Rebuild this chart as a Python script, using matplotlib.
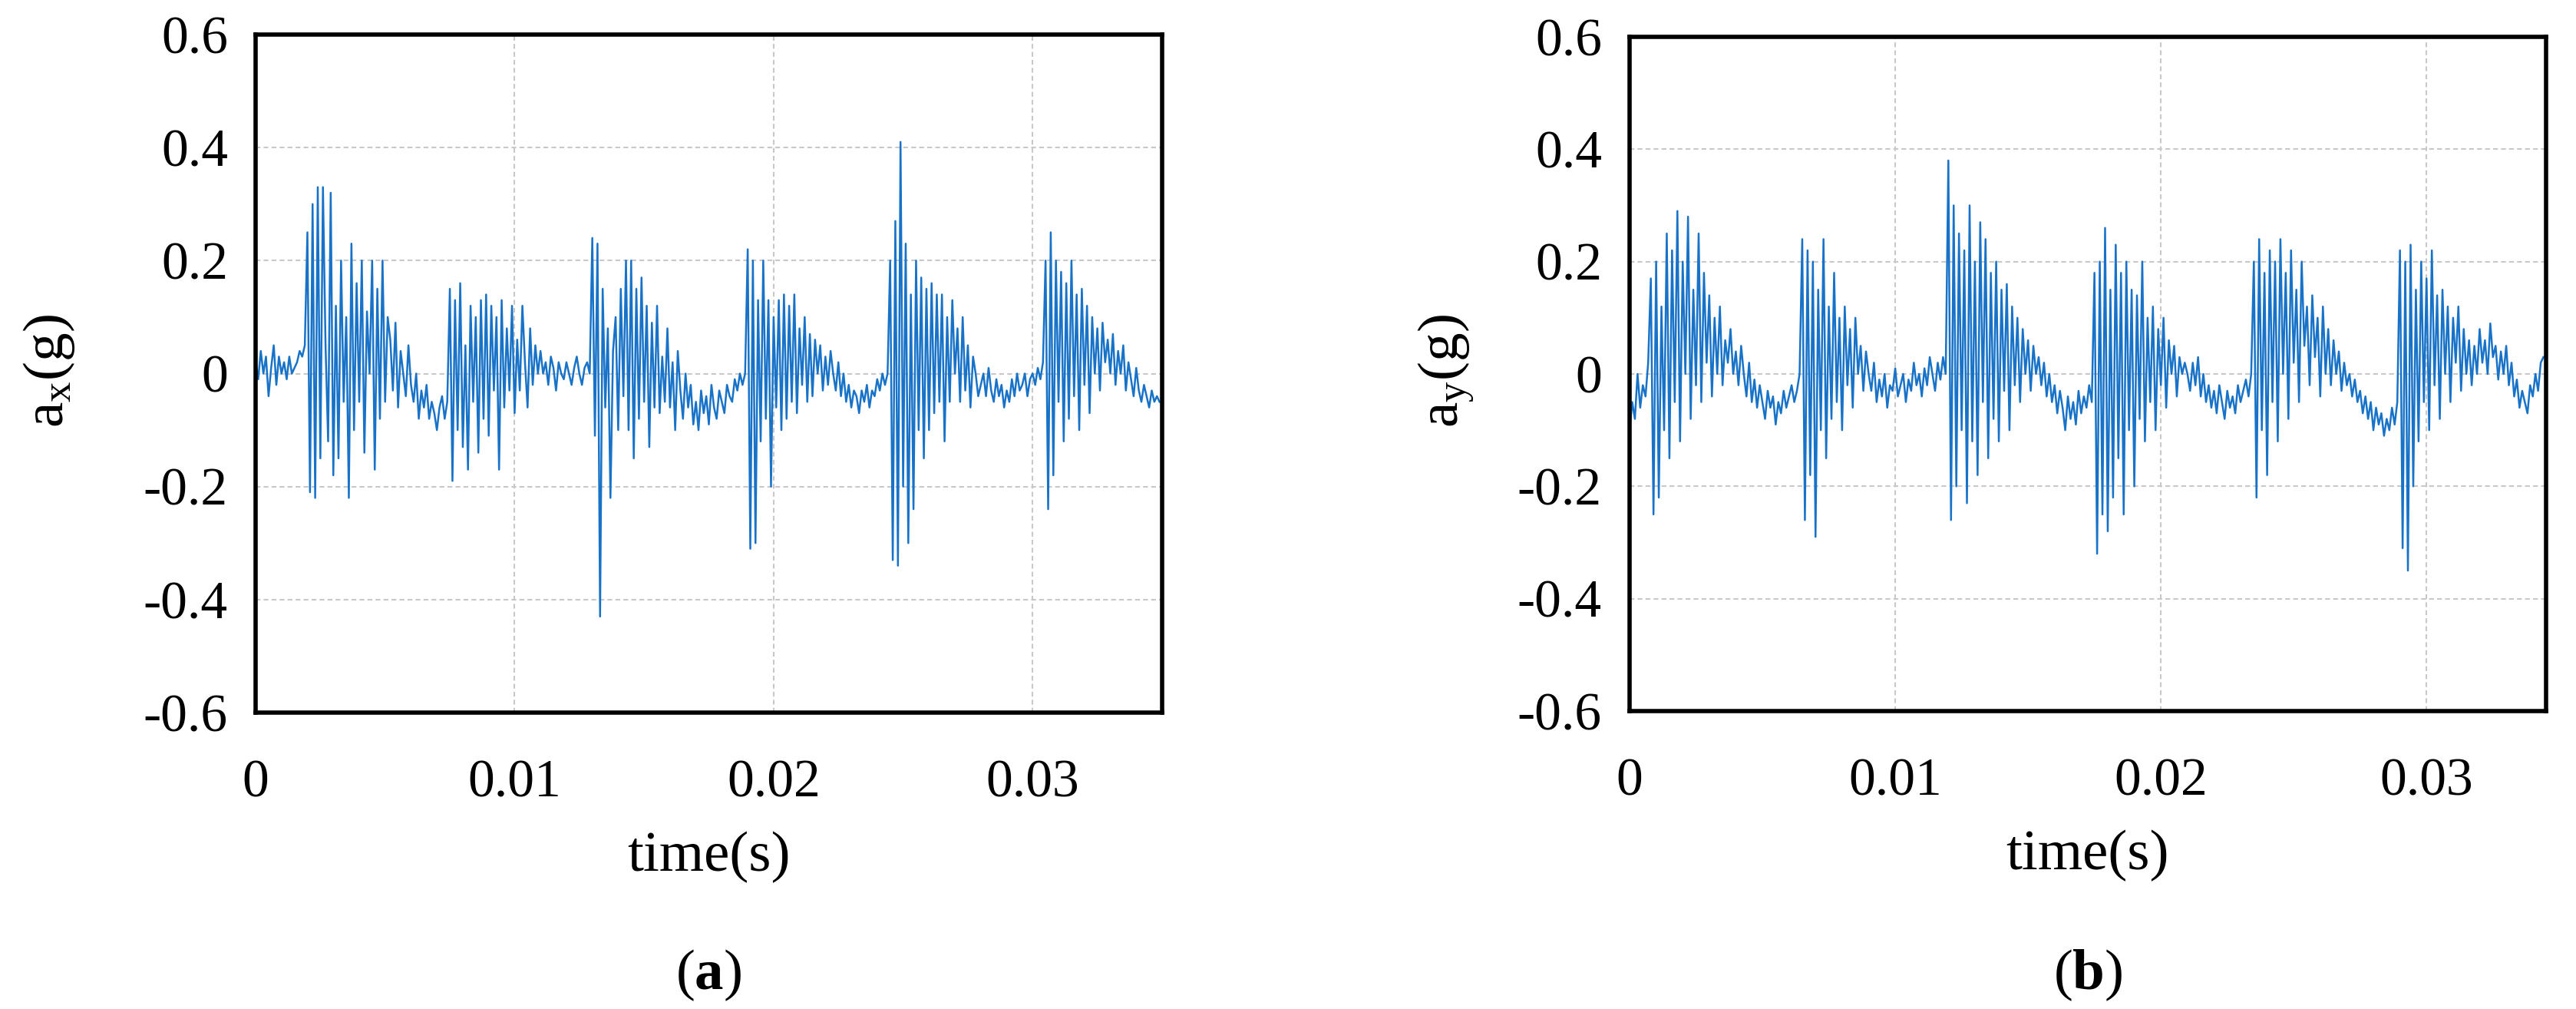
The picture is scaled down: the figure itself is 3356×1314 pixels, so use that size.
import numpy as np
import matplotlib
matplotlib.use("Agg")
import matplotlib.pyplot as plt

dt = 0.0001
ax_vals = [
 0.02,-0.01,0.04,0.0,0.03,-0.04,0.01,0.05,-0.02,0.03,0.0,0.02,-0.01,0.03,0.0,0.01,0.02,0.04,0.03,0.05,
 0.25,-0.21,0.30,-0.22,0.33,-0.15,0.33,0.05,-0.12,0.32,-0.18,0.12,-0.15,0.2,-0.05,0.1,-0.22,0.23,-0.1,0.16,-0.05,0.2,-0.14,0.11,0.0,0.2,-0.17,0.15,-0.08,0.2,
 -0.05,0.1,0.06,-0.03,0.09,-0.06,0.04,0.0,-0.04,0.05,-0.02,-0.05,0.0,-0.08,-0.03,-0.06,-0.02,-0.08,-0.05,-0.07,-0.1,-0.06,-0.04,-0.08,-0.05,
 0.15,-0.19,0.13,-0.1,0.16,-0.13,0.05,-0.17,0.12,-0.05,0.1,-0.14,0.13,-0.08,0.14,-0.11,0.12,-0.03,0.1,-0.17,0.13,-0.06,0.08,-0.03,0.12,-0.07,0.06,-0.03,0.12,0.02,-0.06,0.08,-0.02,0.05,0.0,
 0.04,0.0,0.02,-0.02,0.03,0.01,-0.03,0.02,0.0,-0.01,0.02,0.0,-0.02,0.01,0.03,0.0,-0.02,0.01,0.02,0.0,
 0.24,-0.11,0.23,-0.43,0.15,-0.06,0.08,-0.22,0.04,0.1,-0.1,0.15,-0.04,0.2,-0.1,0.2,-0.15,0.15,-0.08,0.17,-0.05,0.12,-0.13,0.09,-0.06,0.12,-0.07,0.03,-0.05,0.08,-0.06,0.02,-0.1,0.04,-0.03,-0.08,0.0,-0.06,-0.02,-0.09,
 -0.05,-0.1,-0.03,-0.07,-0.04,-0.09,-0.02,-0.06,-0.08,-0.03,-0.05,-0.07,-0.02,-0.04,-0.05,-0.01,-0.03,0.0,-0.02,0.0,
 0.22,-0.31,0.2,-0.3,0.13,-0.12,0.2,-0.08,0.13,-0.2,0.1,-0.06,0.13,-0.1,0.14,-0.08,0.12,-0.05,0.14,-0.07,0.08,-0.02,0.1,-0.05,0.07,-0.04,0.06,0.0,0.05,-0.03,
 0.03,-0.02,0.04,0.0,-0.03,0.02,-0.04,0.0,-0.05,-0.02,-0.06,-0.03,-0.04,-0.07,-0.03,-0.05,-0.02,-0.06,-0.03,-0.04,-0.01,-0.03,0.0,-0.02,0.0,
 0.2,-0.33,0.27,-0.34,0.41,-0.2,0.23,-0.3,0.14,-0.24,0.2,-0.1,0.17,-0.15,0.15,-0.1,0.16,-0.07,0.14,-0.05,0.14,-0.12,0.1,-0.05,0.13,0.0,0.08,-0.05,0.1,-0.03,0.05,-0.06,0.03,0.0,-0.04,
 -0.02,0.0,-0.04,0.01,-0.03,-0.05,-0.01,-0.04,-0.02,-0.06,-0.03,-0.05,-0.01,-0.04,0.0,-0.03,-0.02,0.0,-0.04,-0.01,0.0,-0.02,0.01,-0.01,0.02,
 0.2,-0.24,0.25,-0.18,0.2,-0.05,0.18,-0.12,0.16,-0.08,0.2,-0.04,0.14,-0.1,0.15,-0.02,0.12,-0.07,0.1,0.0,0.08,-0.03,0.09,0.02,0.06,
 0.0,0.07,-0.02,0.04,0.0,0.05,-0.03,0.02,-0.01,-0.04,0.01,-0.03,-0.05,-0.02,-0.04,-0.06,-0.03,-0.05,-0.04,-0.05,
]
ay_vals = [
 -0.1,-0.05,-0.08,0.0,-0.06,-0.02,-0.04,0.02,
 0.17,-0.25,0.2,-0.22,0.12,-0.1,0.25,-0.15,0.22,-0.05,0.29,-0.12,0.2,0.0,0.28,-0.08,0.15,-0.02,0.25,-0.05,0.18,0.02,0.14,-0.04,0.1,0.0,0.12,-0.02,0.06,0.02,0.08,0.0,
 0.04,-0.02,0.05,0.0,-0.04,0.02,-0.05,-0.01,-0.06,-0.02,-0.05,-0.08,-0.03,-0.06,-0.04,-0.09,-0.05,-0.07,-0.03,-0.06,-0.04,-0.02,-0.05,-0.03,0.0,
 0.24,-0.26,0.22,-0.18,0.2,-0.29,0.15,-0.1,0.24,-0.15,0.12,-0.08,0.18,-0.05,0.1,-0.1,0.12,-0.02,0.08,-0.06,0.1,0.0,0.05,-0.03,0.04,
 0.0,-0.03,0.02,-0.05,-0.01,-0.04,0.0,-0.06,-0.02,-0.03,0.01,-0.04,-0.02,0.0,-0.05,-0.01,-0.03,0.02,-0.02,0.0,-0.04,0.01,-0.02,0.03,0.0,-0.03,0.02,-0.01,0.03,0.0,
 0.38,-0.26,0.3,-0.2,0.25,-0.1,0.22,-0.23,0.3,-0.12,0.2,-0.18,0.27,-0.05,0.24,-0.15,0.18,-0.08,0.2,-0.12,0.15,-0.03,0.16,-0.1,0.12,-0.02,0.1,-0.05,0.08,0.0,0.06,-0.03,0.05,0.0,0.03,
 -0.02,0.02,-0.04,0.0,-0.05,-0.02,-0.07,-0.03,-0.06,-0.1,-0.04,-0.08,-0.05,-0.09,-0.03,-0.07,-0.04,-0.06,-0.02,-0.05,
 0.18,-0.32,0.2,-0.25,0.26,-0.28,0.15,-0.22,0.23,-0.15,0.18,-0.25,0.2,-0.1,0.15,-0.2,0.14,-0.08,0.2,-0.12,0.1,-0.05,0.12,-0.1,0.08,-0.02,0.1,-0.06,0.06,0.0,0.05,-0.04,0.03,0.0,0.02,
 0.0,-0.03,0.02,-0.02,0.03,-0.04,0.0,-0.05,-0.02,-0.06,-0.03,-0.07,-0.02,-0.05,-0.08,-0.03,-0.06,-0.04,-0.07,-0.02,-0.05,-0.03,-0.01,-0.04,0.0,
 0.2,-0.22,0.24,-0.1,0.18,-0.18,0.22,-0.05,0.2,-0.12,0.24,0.0,0.18,-0.08,0.22,0.02,0.15,-0.05,0.2,0.05,0.12,-0.02,0.14,0.03,0.1,-0.04,0.12,0.0,0.08,-0.02,0.06,0.0,0.04,-0.03,0.02,
 -0.02,0.0,-0.04,-0.01,-0.05,-0.03,-0.07,-0.04,-0.08,-0.05,-0.1,-0.06,-0.09,-0.07,-0.11,-0.08,-0.1,-0.06,-0.09,-0.05,
 0.22,-0.31,0.2,-0.35,0.23,-0.2,0.15,-0.12,0.2,-0.05,0.17,-0.1,0.22,-0.02,0.14,-0.08,0.15,0.0,0.12,-0.05,0.1,0.02,0.12,-0.03,0.08,0.0,0.06,-0.02,0.05,0.0,
 0.08,0.02,0.06,0.0,0.09,0.03,0.05,-0.01,0.04,0.0,0.05,-0.02,0.02,-0.04,-0.01,-0.06,-0.03,-0.05,-0.07,-0.02,-0.04,0.0,-0.03,0.02,0.03,
]
xticks = [0, 0.01, 0.02, 0.03]
xtick_labels = ["0", "0.01", "0.02", "0.03"]
yticks = [-0.6, -0.4, -0.2, 0, 0.2, 0.4, 0.6]
ytick_labels = ["-0.6", "-0.4", "-0.2", "0", "0.2", "0.4", "0.6"]

plt.rcParams['font.family'] = ['Liberation Serif', 'DejaVu Serif']
plt.rcParams['mathtext.fontset'] = 'custom'
plt.rcParams['mathtext.rm'] = 'Liberation Serif'
plt.rcParams['mathtext.it'] = 'Liberation Serif'
plt.rcParams['mathtext.bf'] = 'Liberation Serif:bold'

fig = plt.figure(figsize=(33.56, 13.14), dpi=100)
W, H = 3356, 1314
panels = [
    (ax_vals, 0.035, [333, 45, 1514, 928], r"a$_\mathrm{x}$(g)", "a", 64),
    (ay_vals, 0.0345, [2123, 48, 3317, 926], r"a$_\mathrm{y}$(g)", "b", 1883),
]
for vals, xmax, (x0, y0, x1, y1), ylab, tag, ylx in panels:
    ax = fig.add_axes([x0 / W, 1 - y1 / H, (x1 - x0) / W, (y1 - y0) / H])
    t = np.arange(len(vals)) * dt
    ax.plot(t, vals, color="#1873C8", lw=1.8)
    ax.set_xlim(0, xmax)
    ax.set_ylim(-0.6, 0.6)
    ax.set_xticks(xticks)
    ax.set_xticklabels(xtick_labels)
    ax.set_yticks(yticks)
    ax.set_yticklabels(ytick_labels)
    ax.grid(True, color="#c8c8c8", linestyle=(0, (3, 2)), lw=1.5)
    ax.tick_params(axis="y", length=0, labelsize=50, pad=26)
    ax.tick_params(axis="x", length=0, labelsize=50, pad=44)
    for s in ax.spines.values():
        s.set_linewidth(4)
    ax.set_xlabel("time(s)", fontsize=54, labelpad=22)
    fig.text(ylx / W, 1 - 483 / H, ylab, rotation=90, fontsize=54, ha="center", va="center")
    cx = (x0 + x1) / 2 / W
    fig.text(cx, 1 - 1270 / H, r"($\mathbf{%s}$)" % tag, fontsize=54, ha="center", va="center")

fig.savefig("out.png", dpi=100)
